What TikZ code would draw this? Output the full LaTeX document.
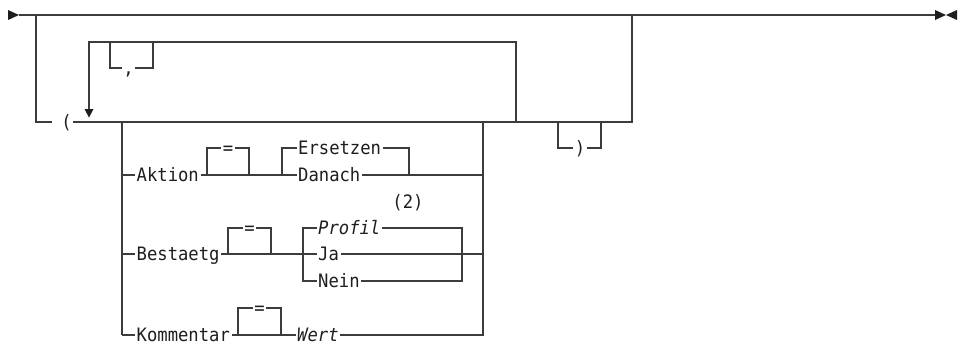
\documentclass[tikz,border=0pt]{standalone}
\usepackage{fontspec}
\newfontfamily\rrfont[FakeStretch=0.93]{DejaVu Sans Mono}
\definecolor{linecol}{RGB}{60,60,60}
\definecolor{txtcol}{RGB}{30,30,30}
\begin{document}
\begin{tikzpicture}[x=1pt,y=-1pt,
  rail/.style={draw=linecol,line width=1.2pt,line join=miter},
  lbl/.style={font=\rrfont\fontsize{18.5}{20}\selectfont,text=txtcol,inner xsep=1.5pt,inner ysep=0pt,text height=13.4pt,text depth=0pt},
  tip/.style={fill=txtcol}]
\useasboundingbox (0,0) rectangle (960,341);
% start and end marks
\fill[tip] (8,10) -- (19,15) -- (8,20) -- cycle;
\fill[tip] (935,10) -- (946,15) -- (935,20) -- cycle;
\fill[tip] (957,10) -- (946,15) -- (957,20) -- cycle;
\coordinate (s) at (19,15);
\coordinate (e) at (935,15);
\draw[rail] (s) -- (e);
\draw[linecol,line width=2pt] (637,14.6) -- (659,14.6);
% outer optional branch
\coordinate (oL) at (36,15);
\coordinate (oLb) at (36,122);
\coordinate (oLe) at (52,122);
\node[lbl] (lp) at (66.5,122) {(};
\coordinate (oR) at (632,15);
\coordinate (oRb) at (632,122);
\draw[rail] (oL) -- (oLb) -- (oLe);
\draw[rail] (lp.east) -- (oRb) -- (oR);
% repeat loop
\coordinate (lpR) at (516,122);
\coordinate (lpRt) at (516,42);
\coordinate (lpLt) at (89,42);
\coordinate (lpLa) at (89,110);
\draw[rail] (lpR) -- (lpRt) -- (lpLt) -- (lpLa);
\fill[tip] (84.5,109) -- (93.5,109) -- (89,117.5) -- cycle;
\node[lbl] (comma) at (128.5,68) {,};
\draw[rail] (110,42) -- (110,68) -- (comma.west);
\draw[rail] (comma.east) -- (153,68) -- (153,42);
% closing paren
\node[lbl] (rp) at (580,148) {)};
\draw[rail] (558,122) -- (558,148) -- (rp.west);
\draw[rail] (rp.east) -- (601,148) -- (601,122);
% options stack
\draw[rail] (122,122) -- (122,335);
% Aktion
\node[lbl,anchor=west] (akt) at (135,175) {Aktion};
\node[lbl] (eq1) at (228,148) {=};
\node[lbl,anchor=west] (ers) at (296.5,148) {Ersetzen};
\node[lbl,anchor=west] (dan) at (296.5,175) {Danach};
\draw[rail] (122,175) -- (akt.west);
\draw[rail] (akt.east) -- (dan.west);
\draw[rail] (207,175) -- (207,148) -- (eq1.west);
\draw[rail] (eq1.east) -- (249,148) -- (249,175);
\draw[rail] (282,175) -- (282,148) -- (ers.west);
\draw[rail] (ers.east) -- (409,148) -- (409,175);
\draw[rail] (dan.east) -- (483,175);
% Bestaetg
\node[lbl] (note) at (408,202) {(2)};
\node[lbl,anchor=west] (bes) at (135,254) {Bestaetg};
\node[lbl] (eq2) at (249.5,228) {=};
\node[lbl,anchor=west] (prof) at (316.5,228) {\itshape Profil};
\node[lbl,anchor=west] (ja) at (316.5,254) {Ja};
\node[lbl,anchor=west] (nein) at (316.5,281) {Nein};
\draw[rail] (122,254) -- (bes.west);
\draw[rail] (bes.east) -- (ja.west);
\draw[rail] (228,254) -- (228,228) -- (eq2.west);
\draw[rail] (eq2.east) -- (271,228) -- (271,254);
\draw[rail] (prof.west) -- (303,228) -- (303,281) -- (nein.west);
\draw[rail] (prof.east) -- (462,228) -- (462,281) -- (nein.east);
\draw[rail] (ja.east) -- (483,254);
% Kommentar
\node[lbl,anchor=west] (kom) at (135,335) {Kommentar};
\node[lbl] (eq3) at (259.5,308) {=};
\node[lbl,anchor=west] (wert) at (295.5,335) {\itshape Wert};
\draw[rail] (122,335) -- (kom.west);
\draw[rail] (kom.east) -- (wert.west);
\draw[rail] (238,335) -- (238,308) -- (eq3.west);
\draw[rail] (eq3.east) -- (281,308) -- (281,335);
\draw[rail] (wert.east) -- (483,335) -- (483,122);
\end{tikzpicture}
\end{document}
